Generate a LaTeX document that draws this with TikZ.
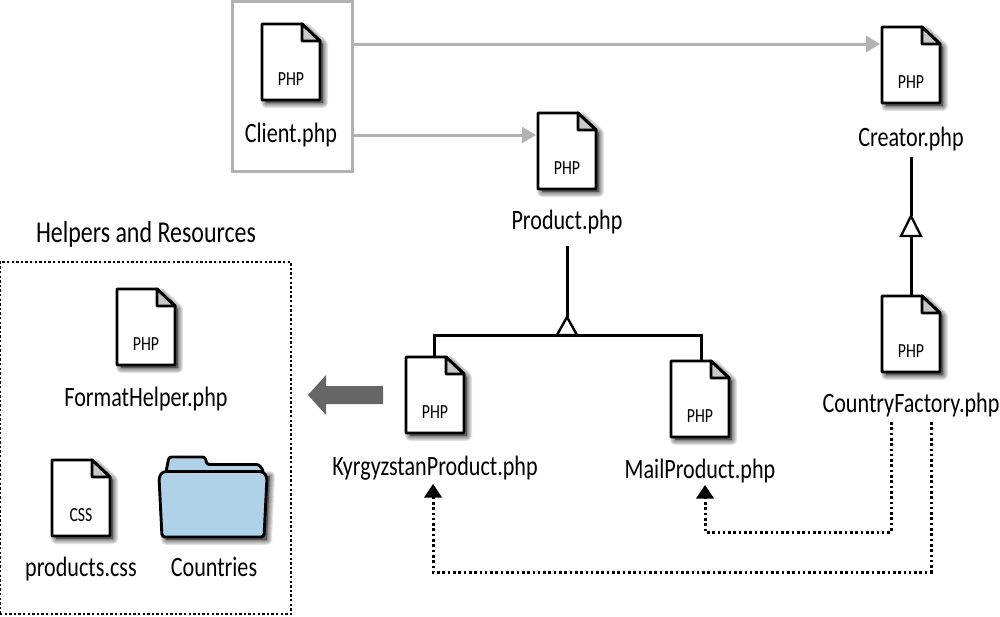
\documentclass[tikz,border=0pt]{standalone}
\usepackage{fontspec}
\setmainfont[FakeStretch=0.79]{Carlito}
\usetikzlibrary{arrows.meta,calc}
\definecolor{rulegray}{HTML}{B2B2B2}
\definecolor{fatgray}{HTML}{666666}
\definecolor{foldgray}{HTML}{C8C8C8}
\definecolor{folderblue}{HTML}{B0D2E9}
\tikzset{
  x=1pt,y=-1pt,
  sheet/.style={draw=black,line width=2.9pt,line join=round,fill=white},
  fold/.style={draw=black,line width=2.9pt,line join=round,fill=foldgray},
  holder/.style={minimum width=58pt,minimum height=76pt,inner sep=0pt,outer sep=0pt},
  kindtext/.style={font=\fontsize{20}{22}\selectfont,inner sep=0pt},
  caption/.style={font=\fontsize{28}{30}\selectfont,inner sep=0pt,anchor=base},
  uses/.style={draw=rulegray,line width=3pt,-{Triangle[length=14pt,width=16pt]}},
  inherit/.style={draw=black,line width=3pt},
  opentri/.style={draw=black,line width=2.4pt,fill=white,line join=miter},
  dots/.style={draw=black,line width=3pt,dash pattern=on 2.6pt off 2.7pt},
  dothead/.style={fill=black},
}
% A page icon with folded corner and soft shadow; #1 name, #2,#3 top-left corner, #4 file kind
\newcommand{\pageicon}[4]{%
  \foreach \s in {10,8,6,4,2}{%
    \path[draw=black,draw opacity=0.1,fill=black,fill opacity=0.1,line width=\s pt,line join=round]
      (#2+4,#3+4) -- (#2+44,#3+4) -- (#2+61,#3+20) -- (#2+61,#3+79) -- (#2+4,#3+79) -- cycle;
  }
  \path[sheet] (#2,#3) -- (#2+40,#3) -- (#2+58,#3+17) -- (#2+58,#3+76) -- (#2,#3+76) -- cycle;
  \path[fold] (#2+40,#3) -- (#2+58,#3+17) -- (#2+40,#3+17) -- cycle;
  \node[holder] (#1) at (#2+29,#3+38) {};
  \node[kindtext] (#1kind) at (#2+29,#3+55.5) {#4};
}
\begin{document}
\begin{tikzpicture}
\useasboundingbox (0,0) rectangle (1000,616);

% Files
\pageicon{client}{262}{24}{PHP}
\pageicon{creator}{882}{27}{PHP}
\pageicon{product}{538}{113}{PHP}
\pageicon{kyrgyz}{406}{357}{PHP}
\pageicon{mail}{671}{361}{PHP}
\pageicon{factory}{882}{296}{PHP}
\pageicon{helper}{117}{289}{PHP}
\pageicon{styles}{52}{460}{CSS}

% Folder with a soft shadow
\foreach \s in {10,8,6,4,2}{%
  \path[draw=black,draw opacity=0.1,fill=black,fill opacity=0.1,line width=\s pt,line join=round]
    (164,476) -- (270,476) -- (267,540) -- (166,540) -- cycle;
}
\path[draw=black,line width=2.9pt,fill=folderblue,rounded corners=2.5pt]
  (166,472) -- (169,457) -- (205,457) -- (207,464.5) -- (259,464.5) -- (264,472) -- cycle;
\path[draw=black,line width=2.9pt,fill=folderblue,rounded corners=3pt]
  (159,477) -- (163,471.5) -- (263,471.5) -- (267,477) -- (264,537) -- (162,537) -- cycle;
\node[minimum width=108pt,minimum height=80pt,inner sep=0pt] (folder) at (213,497) {};

% Captions
\node[caption] (clientname)  at (291,142) {Client.php};
\node[caption] (creatorname) at (911,146) {Creator.php};
\node[caption] (productname) at (567,229) {Product.php};
\node[caption] (kyrgyzname)  at (435,475) {KyrgyzstanProduct.php};
\node[caption] (mailname)    at (700,478) {MailProduct.php};
\node[caption] (factoryname) at (911,412) {CountryFactory.php};
\node[caption] (helpername)  at (146,406) {FormatHelper.php};
\node[caption] (stylesname)  at (81,576) {products.css};
\node[caption] (foldername)  at (214,576) {Countries};
\node[caption,font=\fontsize{30.3}{32}\selectfont] (helperstitle) at (146,242) {Helpers and Resources};

% Frames
\node[draw=rulegray,line width=3pt,inner sep=0pt,minimum width=120pt,minimum height=170pt] (clientframe) at (292,86) {};
\node[draw=black,line width=1.2pt,dash pattern=on 2.4pt off 2.2pt,inner sep=0pt,minimum width=291pt,minimum height=352pt] (helpersframe) at (145.5,438) {};

% Calls from the client
\coordinate (creatorin) at (880,44);
\coordinate (productin) at (536,135);
\draw[uses] (clientframe.east |- creatorin) -- (creatorin);
\draw[uses] (clientframe.east |- productin) -- (productin);

% Inheritance: product branch
\coordinate (productstem) at (567,246);
\coordinate (producttip) at (567,317);
\coordinate (busleft) at (434,335);
\coordinate (busright) at (701,335);
\draw[inherit] (productstem) -- (producttip);
\draw[inherit,line join=miter] (kyrgyz.north -| busleft) -- (busleft) -- (busright) -- (mail.north -| busright);
\path[opentri] (producttip) -- (577,335) -- (557,335) -- cycle;

% Inheritance: creator branch
\coordinate (creatortip) at (911,216);
\coordinate (creatorstem) at (911,157);
\draw[inherit] (creatorstem) -- (creatortip);
\draw[inherit] (911,236) -- (factory.north);
\path[opentri] (creatortip) -- (921,236) -- (901,236) -- cycle;

% Factory creates the products
\coordinate (mailout) at (891,422);
\coordinate (mailin) at (705,485);
\coordinate (kyrgyzout) at (931,422);
\coordinate (kyrgyzin) at (433,484);
\draw[dots] (mailout) -- (891,532) -- (705,532) -- (705,498);
\draw[dots] (kyrgyzout) -- (931,572) -- (433,572) -- (433,497);
\fill[dothead] (mailin) -- (714,498.5) -- (696,498.5) -- cycle;
\fill[dothead] (kyrgyzin) -- (442,497.5) -- (424,497.5) -- cycle;

% Dependency on the helpers
\fill[fatgray] (383,386) -- (326,386) -- (326,375) -- (308,395) -- (326,415) -- (326,404) -- (383,404) -- cycle;
\end{tikzpicture}
\end{document}
